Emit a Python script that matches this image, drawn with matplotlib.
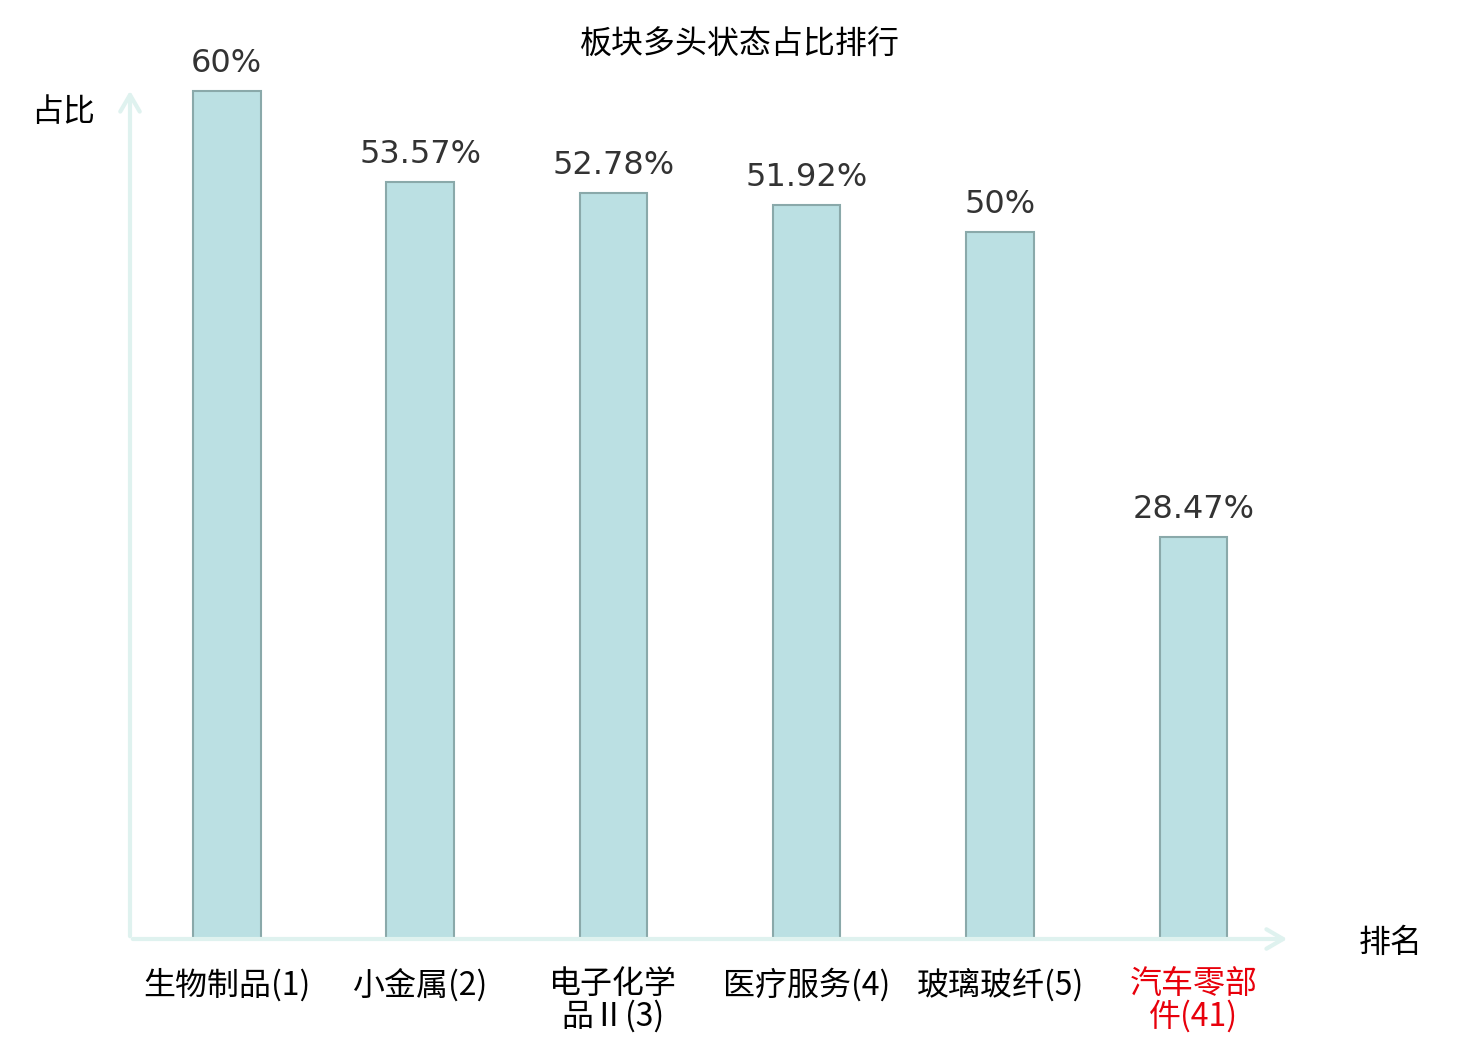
import matplotlib
matplotlib.use("Agg")
import matplotlib.pyplot as plt
from matplotlib.patches import FancyArrowPatch

plt.rcParams['font.family'] = ['Noto Sans CJK SC', 'DejaVu Sans']

title = "板块多头状态占比排行"
categories = ["生物制品(1)", "小金属(2)", "电子化学\n品Ⅱ(3)", "医疗服务(4)", "玻璃玻纤(5)", "汽车零部\n件(41)"]
values = [60, 53.57, 52.78, 51.92, 50, 28.47]
value_labels = ["60%", "53.57%", "52.78%", "51.92%", "50%", "28.47%"]
label_colors = ["#000000"] * 5 + ["#e8000b"]

W, H = 1480, 1040
fig = plt.figure(figsize=(W / 100, H / 100), dpi=100)
x0, x1, yb, yt = 130, 1290, 939, 88
ax = fig.add_axes([x0 / W, 1 - yb / H, (x1 - x0) / W, (yb - yt) / H])
ax.set_xlim(-0.5, 5.5)
ax.set_ylim(0, 60.2)
for s in ax.spines.values():
    s.set_visible(False)
ax.set_yticks([])
xs = list(range(len(values)))
ax.bar(xs, values, width=0.35, color="#bbe0e3", edgecolor="#8aa9aa", linewidth=1.5, zorder=3)
for x, v, t in zip(xs, values, value_labels):
    ax.annotate(t, (x, v), xytext=(0, 8.5), textcoords="offset points", ha="center", va="bottom",
                fontsize=23, color="#333333", family=['DejaVu Sans'])
ax.set_xticks(xs)
ax.set_xticklabels(categories, fontsize=23, linespacing=1.0)
for lbl, c in zip(ax.get_xticklabels(), label_colors):
    lbl.set_color(c)
    lbl.set_verticalalignment("top")
ax.tick_params(axis='x', length=0, pad=21)

axis_color = "#dff2ef"
fig.patches.append(FancyArrowPatch((x0 / W, 1 - yb / H), (x1 / W, 1 - yb / H), transform=fig.transFigure,
                                   arrowstyle="->,head_length=12,head_width=7", color=axis_color, lw=3,
                                   mutation_scale=1, zorder=1))
fig.patches.append(FancyArrowPatch((x0 / W, 1 - yb / H), (x0 / W, 1 - yt / H), transform=fig.transFigure,
                                   arrowstyle="->,head_length=12,head_width=7", color=axis_color, lw=3,
                                   mutation_scale=1, zorder=1))

fig.text(740 / W, 1 - 45 / H, title, ha="center", va="center", fontsize=23, color="#000000")
fig.text(63 / W, 1 - 112 / H, "占比", ha="center", va="center", fontsize=23, color="#000000")
fig.text(1391 / W, 1 - 943 / H, "排名", ha="center", va="center", fontsize=23, color="#000000")

fig.savefig("out.png", dpi=100)
